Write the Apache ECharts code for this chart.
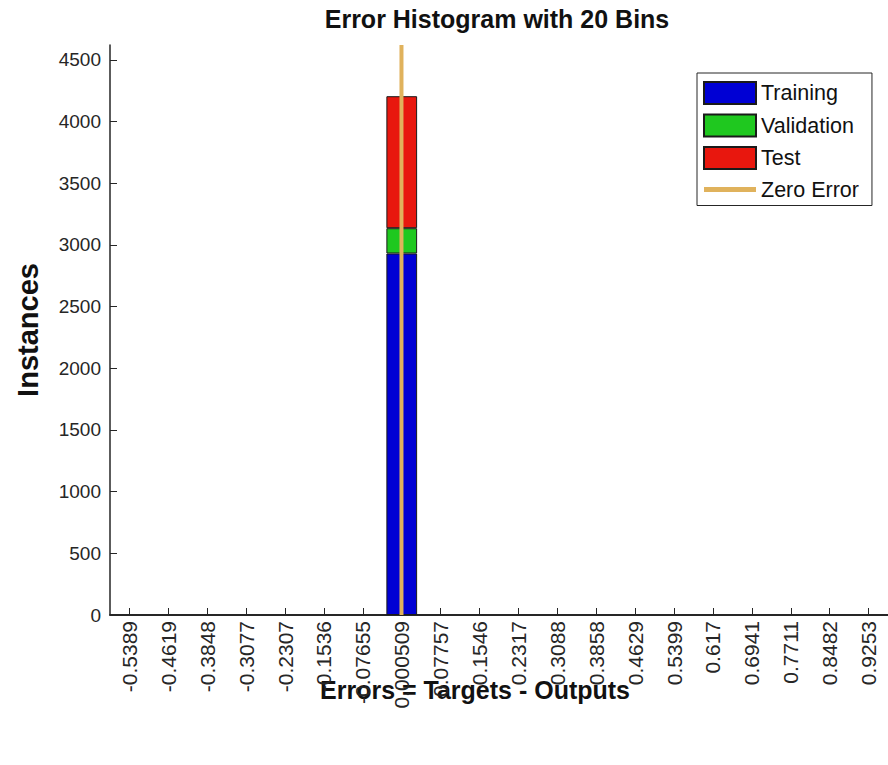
<!DOCTYPE html>
<html>
<head>
<meta charset="utf-8">
<script src="https://cdn.jsdelivr.net/npm/echarts@6/dist/echarts.min.js"></script>
<style>
  html, body { margin: 0; padding: 0; background: #ffffff; }
  #chart { width: 888px; height: 765px; }
</style>
</head>
<body>
<div id="chart"></div>
<script>
// Bin centres of the error histogram (also used as tick labels)
const binCenters = ['-0.5389', '-0.4619', '-0.3848', '-0.3077', '-0.2307', '-0.1536', '-0.07655',
  '0.000509', '0.07757', '0.1546', '0.2317', '0.3088', '0.3858', '0.4629', '0.5399', '0.617',
  '0.6941', '0.7711', '0.8482', '0.9253'];

// Instances per bin for each data split
const training   = [0, 0, 0, 0, 0, 0, 0, 2930, 0, 0, 0, 0, 0, 0, 0, 0, 0, 0, 0, 0];
const validation = [0, 0, 0, 0, 0, 0, 0, 205, 0, 0, 0, 0, 0, 0, 0, 0, 0, 0, 0, 0];
const test       = [0, 0, 0, 0, 0, 0, 0, 1070, 0, 0, 0, 0, 0, 0, 0, 0, 0, 0, 0, 0];

// Zero-error reference position and y-axis settings
const zeroError = 0;
const yMax = 4620;
const yInterval = 500;

// Continuous error scale covering the full width of the bins
const firstCenter = parseFloat(binCenters[0]);
const lastCenter = parseFloat(binCenters[binCenters.length - 1]);
const binWidth = (lastCenter - firstCenter) / (binCenters.length - 1);
const errMin = firstCenter - binWidth / 2;
const errMax = lastCenter + binWidth / 2;

const axisColor = '#262626';
const textColor = '#111111';
const font = 'Liberation Sans, Arial, Helvetica, sans-serif';

const chart = echarts.init(document.getElementById('chart'), null, { renderer: 'svg' });

const barStyle = (color) => ({ color: color, borderColor: '#1a1a1a', borderWidth: 1 });
// Empty bins are left out so no zero-height outlines are drawn
const barData = (values) => values.map((v) => (v > 0 ? v : null));

// Legend icon for the zero-error line: a thin bar inside the full icon box
const lineIcon = 'path://M0,0L0.001,0M0,8.6L52,8.6L52,13.4L0,13.4ZM0,22L0.001,22';

chart.setOption({
  backgroundColor: '#ffffff',
  animation: false,
  textStyle: { fontFamily: font },
  title: {
    text: 'Error Histogram with 20 Bins',
    left: 497,
    top: 6,
    padding: 0,
    textAlign: 'center',
    textStyle: { fontFamily: font, fontSize: 25, fontWeight: 'bold', color: textColor }
  },
  legend: {
    orient: 'vertical',
    left: 697,
    top: 73,
    padding: [8, 13, 5, 6],
    itemWidth: 52,
    itemHeight: 22,
    itemGap: 8.5,
    backgroundColor: '#ffffff',
    borderColor: axisColor,
    borderWidth: 1,
    borderRadius: 0,
    textStyle: { fontFamily: font, fontSize: 21.5, lineHeight: 20, color: textColor, padding: [0, 0, 0, 0] },
    data: [
      { name: 'Training', icon: 'rect' },
      { name: 'Validation', icon: 'rect' },
      { name: 'Test', icon: 'rect' },
      { name: 'Zero Error', icon: lineIcon }
    ]
  },
  grid: { left: 110, top: 45, width: 787, bottom: 150, containLabel: false },
  xAxis: [
    {
      type: 'category',
      data: binCenters,
      boundaryGap: true,
      axisLine: { show: true, onZero: false, lineStyle: { color: axisColor, width: 1.8 } },
      axisTick: { show: true, inside: true, alignWithLabel: true, length: 7, lineStyle: { color: axisColor } },
      axisLabel: { rotate: 90, margin: 6, fontSize: 21, color: axisColor, fontFamily: font, interval: 0 },
      splitLine: { show: false }
    },
    {
      type: 'value',
      min: errMin,
      max: errMax,
      show: false,
      axisLine: { show: false, onZero: false },
      axisTick: { show: false },
      axisLabel: { show: false },
      splitLine: { show: false }
    }
  ],
  yAxis: {
    type: 'value',
    min: 0,
    max: yMax,
    interval: yInterval,
    name: 'Instances',
    nameLocation: 'middle',
    nameGap: 68,
    nameRotate: 90,
    nameTextStyle: { fontFamily: font, fontSize: 29, fontWeight: 'bold', color: textColor },
    axisLine: { show: true, onZero: false, lineStyle: { color: axisColor, width: 1.5 } },
    axisTick: { show: true, inside: true, length: 7, lineStyle: { color: axisColor } },
    axisLabel: {
      margin: 9, fontSize: 19, color: axisColor, fontFamily: font, showMaxLabel: false,
      formatter: (v) => String(v)
    },
    splitLine: { show: false }
  },
  graphic: [
    {
      type: 'text',
      x: 475,
      y: 690,
      style: {
        text: 'Errors = Targets - Outputs',
        fontFamily: font,
        fontSize: 25,
        fontWeight: 'bold',
        fill: textColor,
        textAlign: 'center',
        textVerticalAlign: 'middle'
      }
    }
  ],
  series: [
    { name: 'Training', type: 'bar', stack: 'splits', barWidth: '79%', data: barData(training), itemStyle: barStyle('#0000d4') },
    { name: 'Validation', type: 'bar', stack: 'splits', barWidth: '79%', data: barData(validation), itemStyle: barStyle('#1fc81f') },
    { name: 'Test', type: 'bar', stack: 'splits', barWidth: '79%', data: barData(test), itemStyle: barStyle('#e8170e') },
    {
      name: 'Zero Error',
      type: 'line',
      xAxisIndex: 1,
      symbol: 'none',
      z: 5,
      data: [[zeroError, 0], [zeroError, yMax]],
      lineStyle: { color: '#e0b25c', width: 4 },
      itemStyle: { color: '#e0b25c' }
    }
  ]
});
</script>
</body>
</html>
